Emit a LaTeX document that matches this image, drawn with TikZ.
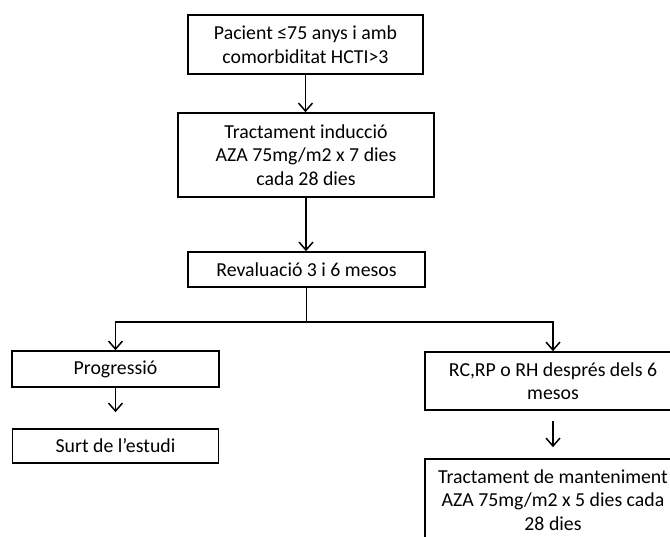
\documentclass[tikz,border=0pt]{standalone}
\usepackage{fontspec}
\setmainfont{Carlito}
\usepackage{tikz}
\usetikzlibrary{arrows.meta, positioning, calc}

\begin{document}
\begin{tikzpicture}[x=1pt, y=-1pt, box/.style={draw, line width=1.6pt,
      rectangle, inner sep=0pt, align=center,
      font=\fontsize{19.8pt}{23.5pt}\selectfont}, flowarrow/.style={line
      width=1.5pt, -{Straight Barb[length=8pt, width=14pt, line width=1.5pt]}},
      flowline/.style={line width=1.5pt} ]
    \useasboundingbox (0,0) rectangle (670,537);
    \clip (0,0) rectangle (670,537);

    % Boxes
    \node[box, minimum width=235pt, minimum height=59pt] (pacient) at
    (305.5,44.5) {Pacient ≤75 anys i amb\\comorbiditat HCTI>3};
    \node[box, minimum width=256pt, minimum height=84pt] (induccio) at
    (306,155) {Tractament inducció\\AZA 75mg/m2 x 7 dies\\cada 28 dies};
    \node[box, minimum width=237pt, minimum height=35pt] (revaluacio) at
    (306.5,269.5) {Revaluació 3 i 6 mesos};
    \node[box, minimum width=207pt, minimum height=36pt] (progressio) at
    (115.5,369) {Progressió};
    \node[box, minimum width=206pt, minimum height=34pt] (surt) at
    (115.5,446) {Surt de l’estudi};
    \node[box, minimum width=256pt, minimum height=58pt] (resposta) at
    (553,381) {RC,RP o RH després dels 6\\mesos};
    \node[box, minimum width=256pt, minimum height=82pt] (manteniment) at
    (553,500) {Tractament de manteniment\\AZA 75mg/m2 x 5 dies cada\\28 dies};

    % Connectors
    \draw[flowarrow] (pacient.south) -- (pacient.south |- induccio.north);
    \draw[flowarrow] (induccio.south) -- (induccio.south |- revaluacio.north);
    \coordinate (split) at ($(revaluacio.south)+(0,34)$);
    \draw[flowline] (revaluacio.south) -- (split);
    \draw[flowarrow] (split) -| (progressio.north);
    \draw[flowarrow] (split) -| (resposta.north);
    \draw[flowarrow, shorten >=16pt] (progressio.south) -- (surt.north);
    \draw[flowarrow, shorten <=10pt, shorten >=11pt] (resposta.south) --
    (manteniment.north);

\end{tikzpicture}
\end{document}
